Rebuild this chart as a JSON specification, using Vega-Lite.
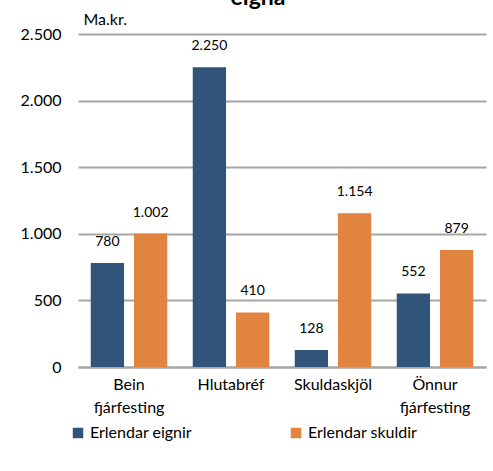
{
  "$schema": "https://vega.github.io/schema/vega-lite/v6.json",
  "width": 408,
  "height": 333,
  "autosize": {"type": "none"},
  "padding": {"left": 78, "top": 34, "right": 7, "bottom": 104},
  "background": "white",
  "config": {
    "locale": {"number": {"decimal": ",", "thousands": ".", "grouping": [3], "currency": ["", " kr."]}},
    "font": "Lato",
    "view": {"stroke": null}
  },
  "title": {
    "text": "eigna",
    "fontSize": 23,
    "fontWeight": "bold",
    "color": "#000000",
    "anchor": "middle",
    "frame": "group",
    "baseline": "alphabetic",
    "dx": -24,
    "dy": 21
  },
  "data": {
    "values": [
      {"flokkur": "Bein fjárfesting", "tegund": "Erlendar eignir", "value": 780},
      {"flokkur": "Bein fjárfesting", "tegund": "Erlendar skuldir", "value": 1002},
      {"flokkur": "Hlutabréf", "tegund": "Erlendar eignir", "value": 2250},
      {"flokkur": "Hlutabréf", "tegund": "Erlendar skuldir", "value": 410},
      {"flokkur": "Skuldaskjöl", "tegund": "Erlendar eignir", "value": 128},
      {"flokkur": "Skuldaskjöl", "tegund": "Erlendar skuldir", "value": 1154},
      {"flokkur": "Önnur fjárfesting", "tegund": "Erlendar eignir", "value": 552},
      {"flokkur": "Önnur fjárfesting", "tegund": "Erlendar skuldir", "value": 879}
    ]
  },
  "encoding": {
    "x": {
      "field": "flokkur",
      "type": "nominal",
      "sort": null,
      "scale": {"paddingInner": 0.25, "paddingOuter": 0.125},
      "axis": {
        "title": null,
        "labelAngle": 0,
        "labelExpr": "split(datum.label, ' ')",
        "labelFontSize": 16,
        "labelColor": "#000000",
        "labelLineHeight": 23,
        "labelPadding": 9,
        "ticks": false,
        "domainColor": "#A6A6A6",
        "domainWidth": 2
      }
    },
    "xOffset": {
      "field": "tegund",
      "type": "nominal",
      "scale": {"paddingInner": 0.23, "paddingOuter": 0}
    },
    "y": {
      "field": "value",
      "type": "quantitative",
      "scale": {"domain": [0, 2500]},
      "axis": {
        "values": [0, 500, 1000, 1500, 2000, 2500],
        "format": ",d",
        "title": "Ma.kr.",
        "titleAngle": 0,
        "titleAlign": "left",
        "titleBaseline": "alphabetic",
        "titleX": 5,
        "titleY": -10,
        "titleFontSize": 16,
        "titleFontWeight": "normal",
        "titleColor": "#000000",
        "labelFontSize": 16,
        "labelColor": "#000000",
        "labelPadding": 17,
        "ticks": false,
        "domain": false,
        "grid": true,
        "gridColor": "#A6A6A6",
        "gridWidth": 2
      }
    }
  },
  "layer": [
    {
      "mark": {"type": "bar"},
      "encoding": {
        "color": {
          "field": "tegund",
          "type": "nominal",
          "scale": {"domain": ["Erlendar eignir", "Erlendar skuldir"], "range": ["#31557A", "#E0843F"]},
          "legend": {
            "title": null,
            "orient": "none",
            "legendX": -8,
            "legendY": 391,
            "direction": "horizontal",
            "columns": 2,
            "columnPadding": 95,
            "symbolType": "square",
            "symbolSize": 110,
            "symbolStrokeWidth": 0,
            "labelFontSize": 16,
            "labelColor": "#000000",
            "labelOffset": 4
          }
        }
      }
    },
    {
      "mark": {"type": "text", "baseline": "middle", "dy": -21, "fontSize": 14, "color": "#000000"},
      "encoding": {
        "text": {"field": "value", "type": "quantitative", "format": ",d"}
      }
    }
  ]
}
